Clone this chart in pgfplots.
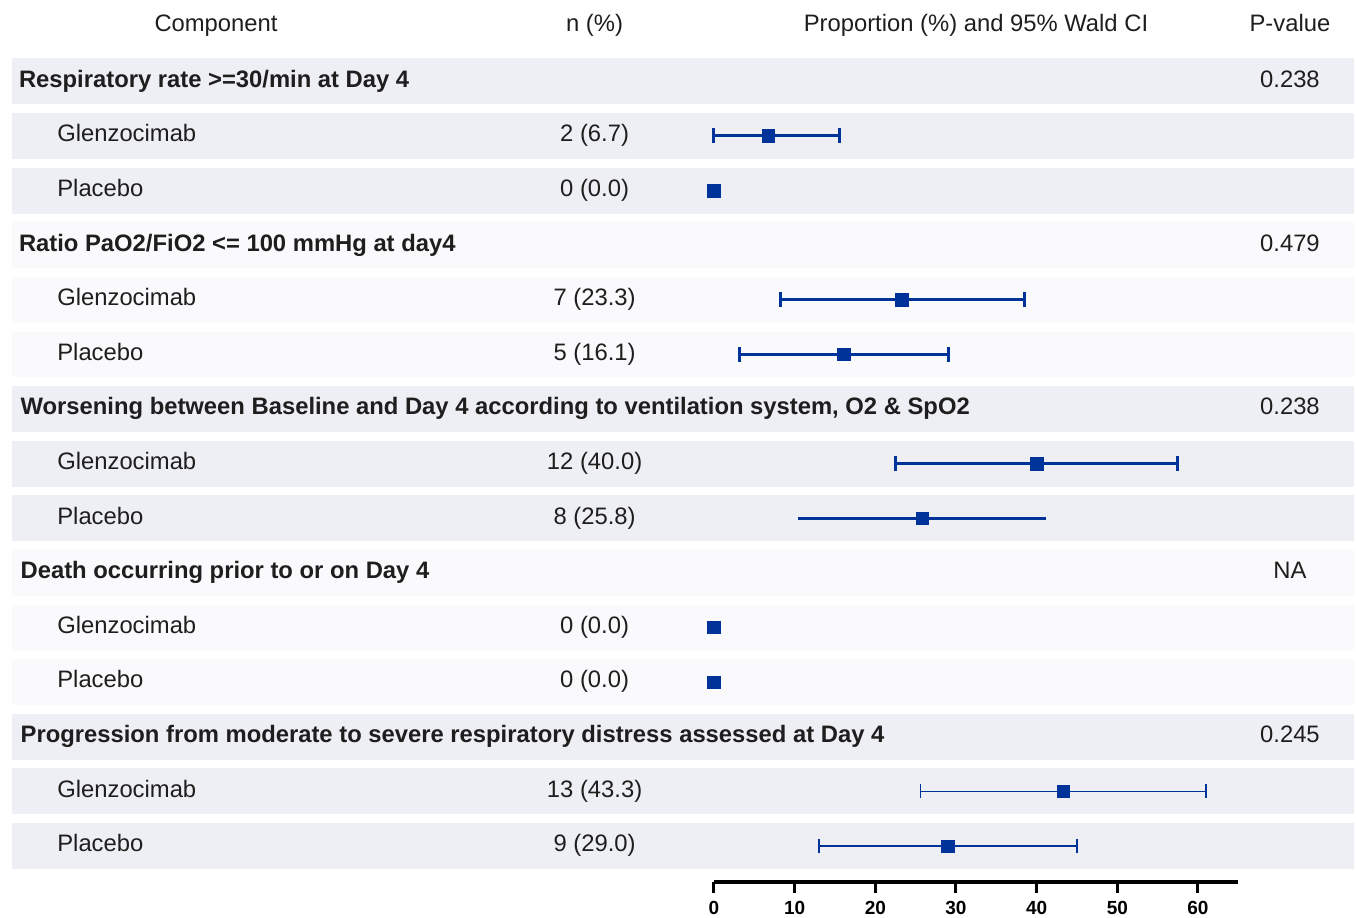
\documentclass[border=0pt]{standalone}
\usepackage{fontspec}
\setmainfont{Liberation Sans}
\usepackage{pgfplots}
\pgfplotsset{compat=1.18}
\definecolor{ci}{HTML}{00339A}
\definecolor{bandA}{HTML}{EEEFF4}
\definecolor{bandB}{HTML}{FAFAFC}
\definecolor{txt}{HTML}{1E1E1E}
\newcommand\fs{\fontsize{11.9}{14}\selectfont}
\begin{document}
\begin{tikzpicture}
\begin{axis}[
  scale only axis, width=262.17pt, height=413.96pt,
  xmin=0, xmax=65, ymin=-15.659, ymax=-0.5,
  axis x line*=bottom, axis y line=none,
  clip=false,
  xtick={0,10,20,30,40,50,60},
  tick align=outside, major tick length=5.5pt,
  x axis line style={-, line width=2pt, black},
  every tick/.style={black, line width=1.5pt},
  xticklabel style={font=\bfseries\fontsize{9.5}{10}\selectfont, inner sep=0.5pt, yshift=-3.5pt},
  /pgf/number format/assume math mode=true,
]
% bounding frame
\path (axis cs:-88.512,0.4904) rectangle (axis cs:79.587,-16.300);
% row bands
\fill[bandA] (axis cs:-87.03,-0.58) rectangle (axis cs:79.34,-1.42);
\fill[bandA] (axis cs:-87.03,-1.58) rectangle (axis cs:79.34,-2.42);
\fill[bandA] (axis cs:-87.03,-2.58) rectangle (axis cs:79.34,-3.42);
\fill[bandB] (axis cs:-87.03,-3.58) rectangle (axis cs:79.34,-4.42);
\fill[bandB] (axis cs:-87.03,-4.58) rectangle (axis cs:79.34,-5.42);
\fill[bandB] (axis cs:-87.03,-5.58) rectangle (axis cs:79.34,-6.42);
\fill[bandA] (axis cs:-87.03,-6.58) rectangle (axis cs:79.34,-7.42);
\fill[bandA] (axis cs:-87.03,-7.58) rectangle (axis cs:79.34,-8.42);
\fill[bandA] (axis cs:-87.03,-8.58) rectangle (axis cs:79.34,-9.42);
\fill[bandB] (axis cs:-87.03,-9.58) rectangle (axis cs:79.34,-10.42);
\fill[bandB] (axis cs:-87.03,-10.58) rectangle (axis cs:79.34,-11.42);
\fill[bandB] (axis cs:-87.03,-11.58) rectangle (axis cs:79.34,-12.42);
\fill[bandA] (axis cs:-87.03,-12.58) rectangle (axis cs:79.34,-13.42);
\fill[bandA] (axis cs:-87.03,-13.58) rectangle (axis cs:79.34,-14.42);
\fill[bandA] (axis cs:-87.03,-14.58) rectangle (axis cs:79.34,-15.42);
% header texts
\begin{scope}[every node/.style={inner sep=0pt, font=\fs, text=txt}]
\node[anchor=base] at (axis cs:-61.73,-0.0955) {Component};
\node[anchor=base] at (axis cs:-14.8,-0.0955) {n (\%)};
\node[anchor=base] at (axis cs:32.48,-0.0955) {Proportion (\%) and 95\% Wald CI};
\node[anchor=base] at (axis cs:71.40,-0.0955) {P-value};
% group labels
\node[anchor=base west, font=\fs\bfseries] at (axis cs:-86.2,-1.107) {Respiratory rate >=30/min at Day 4};
\node[anchor=base west, font=\fs\bfseries] at (axis cs:-86.2,-4.107) {Ratio PaO2/FiO2 <= 100 mmHg at day4};
\node[anchor=base west, font=\fs\bfseries] at (axis cs:-86.0,-7.107) {Worsening between Baseline and Day 4 according to ventilation system, O2 \& SpO2};
\node[anchor=base west, font=\fs\bfseries] at (axis cs:-86.0,-10.107) {Death occurring prior to or on Day 4};
\node[anchor=base west, font=\fs\bfseries] at (axis cs:-86.0,-13.107) {Progression from moderate to severe respiratory distress assessed at Day 4};
% p-values
\node[anchor=base] at (axis cs:71.40,-1.107) {0.238};
\node[anchor=base] at (axis cs:71.40,-4.107) {0.479};
\node[anchor=base] at (axis cs:71.40,-7.107) {0.238};
\node[anchor=base] at (axis cs:71.40,-10.107) {NA};
\node[anchor=base] at (axis cs:71.40,-13.107) {0.245};
% arm labels
\node[anchor=base west] at (axis cs:-81.45,-2.107) {Glenzocimab};
\node[anchor=base west] at (axis cs:-81.45,-3.107) {Placebo};
\node[anchor=base west] at (axis cs:-81.45,-5.107) {Glenzocimab};
\node[anchor=base west] at (axis cs:-81.45,-6.107) {Placebo};
\node[anchor=base west] at (axis cs:-81.45,-8.107) {Glenzocimab};
\node[anchor=base west] at (axis cs:-81.45,-9.107) {Placebo};
\node[anchor=base west] at (axis cs:-81.45,-11.107) {Glenzocimab};
\node[anchor=base west] at (axis cs:-81.45,-12.107) {Placebo};
\node[anchor=base west] at (axis cs:-81.45,-14.107) {Glenzocimab};
\node[anchor=base west] at (axis cs:-81.45,-15.107) {Placebo};
% n (%)
\node[anchor=base] at (axis cs:-14.8,-2.107) {2 (6.7)};
\node[anchor=base] at (axis cs:-14.8,-3.107) {0 (0.0)};
\node[anchor=base] at (axis cs:-14.8,-5.107) {7 (23.3)};
\node[anchor=base] at (axis cs:-14.8,-6.107) {5 (16.1)};
\node[anchor=base] at (axis cs:-14.8,-8.107) {12 (40.0)};
\node[anchor=base] at (axis cs:-14.8,-9.107) {8 (25.8)};
\node[anchor=base] at (axis cs:-14.8,-11.107) {0 (0.0)};
\node[anchor=base] at (axis cs:-14.8,-12.107) {0 (0.0)};
\node[anchor=base] at (axis cs:-14.8,-14.107) {13 (43.3)};
\node[anchor=base] at (axis cs:-14.8,-15.107) {9 (29.0)};
\end{scope}
% CI lines (thick)
\addplot[ci, line width=1.5pt] coordinates {(0,-2) (15.6,-2)};
\addplot[ci, line width=1.5pt] coordinates {(8.2,-5) (38.5,-5)};
\addplot[ci, line width=1.5pt] coordinates {(3.2,-6) (29.1,-6)};
\addplot[ci, line width=1.5pt] coordinates {(22.5,-8) (57.5,-8)};
\addplot[ci, line width=1.5pt] coordinates {(10.4,-9) (41.2,-9)};
% CI lines (thin)
\addplot[ci, line width=0.85pt] coordinates {(25.6,-14) (61.0,-14)};
\addplot[ci, line width=0.85pt] coordinates {(13.0,-15) (45.0,-15)};
% caps
\addplot[ci, only marks, mark=|, mark size=3.75pt, mark options={line width=1.5pt}]
  coordinates {(0,-2) (15.6,-2) (8.2,-5) (38.5,-5) (3.2,-6) (29.1,-6) (22.5,-8) (57.5,-8)};
\addplot[ci, only marks, mark=|, mark size=3.5pt, mark options={line width=0.85pt}]
  coordinates {(25.6,-14) (61.0,-14) (13.0,-15) (45.0,-15)};
% point estimates
\addplot[ci, only marks, mark=square*, mark size=3.1pt, mark options={fill=ci, draw=ci, line width=0.3pt}]
  coordinates {(6.7,-2) (0,-3) (23.3,-5) (16.1,-6) (40.0,-8) (25.8,-9) (0,-11) (0,-12) (43.3,-14) (29.0,-15)};
\end{axis}
\end{tikzpicture}
\end{document}
